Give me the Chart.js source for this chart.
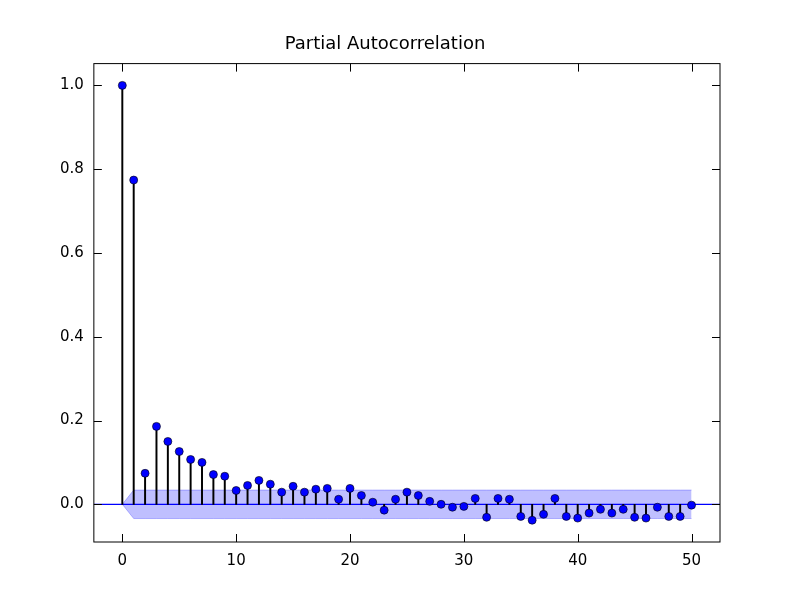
<!DOCTYPE html>
<html>
<head>
<meta charset="utf-8">
<script src="https://cdn.jsdelivr.net/npm/chart.js@4/dist/chart.umd.min.js"></script>
<style>
body{margin:0;background:#fff}
#wrap{width:800px;height:600px}
</style>
</head>
<body>
<div id="wrap"><canvas id="c"></canvas></div>
<script>
var lags = [];
for (var i = 0; i <= 50; i++) lags.push(i);
var pacf = [1.0, 0.774, 0.074, 0.186, 0.150, 0.126, 0.107, 0.100, 0.071, 0.067,
	0.033, 0.045, 0.057, 0.048, 0.029, 0.043, 0.029, 0.036, 0.038, 0.012,
	0.038, 0.021, 0.005, -0.014, 0.012, 0.029, 0.021, 0.007, 0.000, -0.007,
	-0.005, 0.014, -0.031, 0.014, 0.012, -0.029, -0.038, -0.024, 0.014, -0.029,
	-0.033, -0.021, -0.012, -0.021, -0.012, -0.031, -0.033, -0.007, -0.029, -0.029,
	-0.002];
var confUpper = [0];
var confLower = [0];
for (var i = 1; i <= 50; i++) { confUpper.push(0.034); confLower.push(-0.034); }
var xTicks = [0, 10, 20, 30, 40, 50];
var yTicks = [0.0, 0.2, 0.4, 0.6, 0.8, 1.0];

// box and inward ticks like matplotlib
var frame = {
	id: 'frame',
	afterDraw: function(chart){
		var ctx = chart.ctx, a = chart.chartArea, x = chart.scales.x, y = chart.scales.y;
		ctx.save();
		ctx.strokeStyle = '#000';
		ctx.lineWidth = 1;
		ctx.strokeRect(a.left, a.top, a.right - a.left, a.bottom - a.top);
		ctx.beginPath();
		xTicks.forEach(function(t){
			var px = Math.round(x.getPixelForValue(t)) + 0.5;
			ctx.moveTo(px, a.bottom); ctx.lineTo(px, a.bottom - 8);
			ctx.moveTo(px, a.top); ctx.lineTo(px, a.top + 8);
		});
		yTicks.forEach(function(t){
			var py = Math.round(y.getPixelForValue(t)) + 0.5;
			ctx.moveTo(a.left, py); ctx.lineTo(a.left + 8, py);
			ctx.moveTo(a.right, py); ctx.lineTo(a.right - 8, py);
		});
		ctx.stroke();
		ctx.restore();
	}
};

new Chart(document.getElementById('c'), {
	type: 'bar',
	data: {
		datasets: [
			{
				type: 'line', label: 'upper',
				data: lags.map(function(l, i){ return {x: l, y: confUpper[i]}; }),
				borderColor: 'rgba(0,0,255,0.25)', borderWidth: 1, pointRadius: 0,
				backgroundColor: 'rgba(0,0,255,0.25)', fill: '+1', order: 5
			},
			{
				type: 'line', label: 'lower',
				data: lags.map(function(l, i){ return {x: l, y: confLower[i]}; }),
				borderColor: 'rgba(0,0,255,0.25)', borderWidth: 1, pointRadius: 0,
				fill: false, order: 5
			},
			{
				type: 'line', label: 'zero',
				data: [{x: -2.5, y: 0}, {x: 52.5, y: 0}],
				borderColor: '#0000ff', borderWidth: 1.2, pointRadius: 0, fill: false, order: 4
			},
			{
				type: 'bar', label: 'stems',
				data: lags.map(function(l, i){ return {x: l, y: [0, pacf[i]]}; }),
				backgroundColor: '#000', barThickness: 1.3, order: 3
			},
			{
				type: 'scatter', label: 'pacf',
				data: lags.map(function(l, i){ return {x: l, y: pacf[i]}; }),
				backgroundColor: '#0000ff', borderColor: '#000', borderWidth: 0.6,
				pointRadius: 4, order: 1
			}
		]
	},
	options: {
		responsive: true, maintainAspectRatio: false, animation: false,
		layout: {padding: {left: 50, right: 80, top: 0, bottom: 20}},
		plugins: {
			legend: {display: false}, tooltip: {enabled: false},
			title: {display: true, text: 'Partial Autocorrelation', color: '#000',
				font: {family: 'DejaVu Sans', size: 18, weight: 'normal'}, padding: {top: 34, bottom: 8}}
		},
		scales: {
			x: {
				type: 'linear', min: -2.5, max: 52.5, offset: false,
				grid: {display: false, drawTicks: false}, border: {display: false},
				afterBuildTicks: function(s){ s.ticks = xTicks.map(function(v){ return {value: v}; }); },
				ticks: {color: '#000', padding: 10, font: {family: 'DejaVu Sans', size: 15}, maxRotation: 0}
			},
			y: {
				min: -0.09, max: 1.052,
				grid: {display: false, drawTicks: false}, border: {display: false},
				afterBuildTicks: function(s){ s.ticks = yTicks.map(function(v){ return {value: v}; }); },
				ticks: {color: '#000', padding: 10, font: {family: 'DejaVu Sans', size: 15},
					callback: function(v){ return v.toFixed(1); }}
			}
		}
	},
	plugins: [frame]
});
</script>
</body>
</html>
